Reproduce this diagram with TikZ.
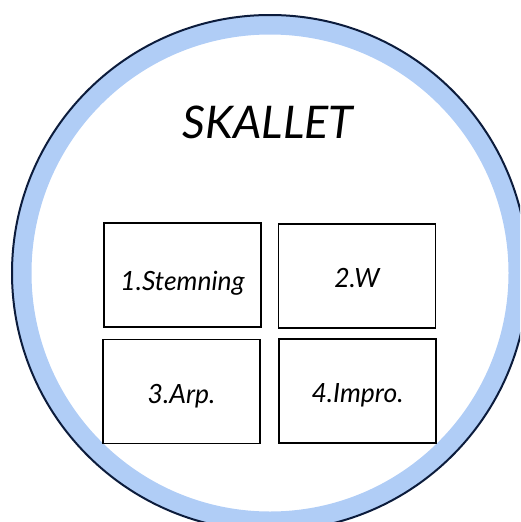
\documentclass[tikz,border=0pt]{standalone}
\usepackage{fontspec}
\setmainfont{Lato}
\definecolor{ringblue}{RGB}{176,205,246}
\definecolor{ringedge}{RGB}{12,28,60}
\begin{document}
\begin{tikzpicture}[x=1pt,y=-1pt,
  cell/.style={draw=black,line width=1.6pt,fill=white,minimum width=157pt,minimum height=104pt,inner sep=0pt,
    text height=23pt,text depth=0pt,font=\fontsize{26.5}{30}\selectfont\itshape},
  title/.style={font=\fontsize{45}{50}\selectfont\itshape}]
\useasboundingbox (0,0) rectangle (520,522);
\begin{scope}
\clip (0,0) rectangle (520,522);
% outer ring: pale blue band with a dark rim
\draw[ringblue,line width=19pt] (270,273) circle (248);
\draw[ringedge,line width=2pt] (270,273) circle (258);
\end{scope}
\node[title] (head) at (268,122) {SKALLET};
\node[cell,text height=30pt] (c1) at (182.5,275) {1.Stemning};
\node[cell] (c2) at (357,276) {2.W};
\node[cell] (c3) at (181.5,391.5) {3.Arp.};
\node[cell] (c4) at (357.5,391) {4.Impro.};
\end{tikzpicture}
\end{document}
